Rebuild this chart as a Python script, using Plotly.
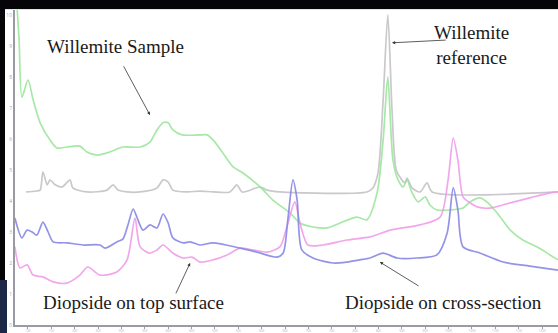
import plotly.graph_objects as go

# Willemite sample (green)
green_x = [76, 81, 87, 100, 111, 126, 147, 162, 183, 211, 226, 248, 275, 303, 340, 361, 376, 389, 400, 410,
           430, 468, 483, 496, 517, 539, 560, 597, 624, 661, 682, 710, 740, 768, 804, 825, 847, 860, 870, 881,
           892, 903, 911, 922, 935, 950, 960, 975, 1003, 1031, 1046, 1067, 1082, 1104, 1132, 1159, 1189, 1217, 1234]
green_y = [10.4, 9.19, 7.35, 7.90, 7.26, 6.52, 5.97, 5.71, 5.74, 5.77, 5.58, 5.48, 5.58, 5.74, 5.74, 5.90, 6.29, 6.52, 6.52, 6.29,
           6.13, 6.13, 6.13, 5.97, 5.55, 5.10, 4.90, 4.45, 4.03, 3.61, 3.29, 3.16, 3.13, 3.29, 3.48, 3.39, 4.26, 5.97, 8.0, 5.32,
           4.68, 4.45, 4.68, 4.26, 3.97, 4.13, 3.87, 3.71, 3.71, 3.77, 3.97, 4.10, 3.97, 3.61, 3.06, 2.74, 2.52, 2.26, 2.10]

# Willemite reference (grey)
grey_x = [96, 117, 126, 132, 141, 147, 158, 173, 190, 196, 226, 269, 282, 293, 312, 340, 376, 389, 400, 410,
          440, 468, 496, 532, 547, 558, 597, 612, 639, 825, 838, 849, 860, 870, 879, 888, 900, 907, 911, 922,
          939, 954, 965, 1234]
grey_y = [4.29, 4.32, 4.35, 4.94, 4.52, 4.68, 4.52, 4.45, 4.68, 4.42, 4.29, 4.35, 4.52, 4.35, 4.29, 4.29, 4.42, 4.68, 4.61, 4.35,
          4.29, 4.32, 4.29, 4.29, 4.52, 4.29, 4.45, 4.35, 4.29, 4.29, 4.42, 4.90, 7.26, 10.0, 6.94, 5.0, 4.68, 4.58, 4.74, 4.42,
          4.29, 4.58, 4.29, 4.29]

# Diopside on cross-section (blue)
blue_x = [72, 87, 98, 109, 119, 132, 143, 154, 183, 218, 254, 265, 290, 303, 314, 325, 333, 346, 361, 376,
          389, 400, 410, 432, 447, 468, 496, 554, 590, 633, 646, 656, 667, 676, 686, 710, 753, 783, 810, 832,
          860, 890, 932, 975, 997, 1010, 1020, 1031, 1067, 1117, 1174, 1234]
blue_y = [3.45, 2.81, 3.06, 3.0, 2.90, 3.32, 3.0, 2.68, 2.65, 2.58, 2.58, 2.48, 2.68, 2.77, 3.23, 3.74, 3.48, 3.06, 3.23, 3.13,
          3.58, 3.29, 2.81, 2.65, 2.68, 2.58, 2.65, 2.48, 2.35, 2.19, 2.32, 3.39, 4.68, 4.03, 2.42, 2.16, 2.0, 2.03, 2.10, 2.16,
          2.32, 2.16, 2.16, 2.26, 2.97, 4.42, 3.71, 2.52, 2.32, 2.03, 1.90, 1.77]

# Diopside on top surface (pink)
pink_x = [72, 83, 98, 111, 132, 154, 183, 211, 228, 254, 290, 312, 329, 340, 361, 376, 389, 410, 432, 451,
          468, 496, 526, 554, 582, 612, 639, 654, 671, 682, 699, 731, 783, 832, 875, 939, 982, 999, 1010, 1020,
          1031, 1046, 1061, 1089, 1132, 1174, 1217, 1234]
pink_y = [2.52, 1.84, 1.94, 1.61, 1.55, 1.39, 1.35, 1.61, 1.87, 1.61, 1.71, 2.10, 3.45, 2.52, 2.32, 2.42, 2.58, 2.32, 2.16, 2.19,
          2.03, 2.10, 2.26, 2.48, 2.42, 2.35, 2.52, 3.16, 3.97, 3.29, 2.58, 2.58, 2.74, 2.84, 3.06, 3.23, 3.48, 4.68, 6.03, 5.32,
          4.13, 3.94, 3.81, 3.77, 3.94, 4.10, 4.26, 4.29]

x_ticks = list(range(100, 1201, 50))
y_ticks = list(range(0, 11))

fig = go.Figure()
series = [
    (grey_x, grey_y, "rgba(195,195,200,0.9)"),
    (green_x, green_y, "rgba(150,228,150,0.85)"),
    (pink_x, pink_y, "rgba(240,150,232,0.85)"),
    (blue_x, blue_y, "rgba(135,135,228,0.9)"),
]
for xs, ys, c in series:
    fig.add_trace(go.Scatter(x=xs, y=ys, mode="lines", showlegend=False, hoverinfo="skip",
                             line=dict(color=c, width=1.7, shape="spline", smoothing=0.75)))

serif = "Liberation Serif, Times New Roman, DejaVu Serif, serif"
txt_font = dict(family=serif, size=19, color="#1a1a1a")
annotations = [
    dict(x=288, y=8.97, text="Willemite Sample", showarrow=False, font=txt_font),
    dict(x=1050, y=9.03, text="Willemite<br>reference", showarrow=False, font=txt_font),
    dict(x=325, y=0.71, text="Diopside on top surface", showarrow=False, font=txt_font),
    dict(x=990, y=0.71, text="Diopside on cross-section", showarrow=False, font=txt_font),
]
arrows = [
    (361, 6.77, 303, 8.39),
    (879, 9.10, 997, 9.19),
    (447, 2.0, 415, 0.97),
    (853, 2.03, 939, 1.23),
]
for hx, hy, tx, ty in arrows:
    annotations.append(dict(x=hx, y=hy, ax=tx, ay=ty, axref="x", ayref="y", xref="x", yref="y",
                            text="", showarrow=True, arrowhead=2, arrowsize=0.8, arrowwidth=0.8,
                            arrowcolor="#333333"))

W, H = 558, 333
L, R, T, B = 15, 0, 9, 8
pw, ph = W - L - R, H - T - B
dark = "#050507"
shapes = [
    # white slide panel behind the chart
    dict(type="rect", xref="paper", yref="paper", x0=(5 - L) / pw, x1=1.0, y0=-B / ph, y1=1.0,
         fillcolor="white", line=dict(width=0), layer="below"),
    # dark slide frame: top band and left band
    dict(type="rect", xref="paper", yref="paper", x0=-L / pw, x1=1.0, y0=1.0, y1=1.0 + T / ph,
         fillcolor=dark, line=dict(width=0), layer="above"),
    dict(type="rect", xref="paper", yref="paper", x0=-L / pw, x1=(5 - L) / pw, y0=(H - B - 280) / ph, y1=1.0 + T / ph,
         fillcolor=dark, line=dict(width=0), layer="above"),
    # thin pale line under the top band
    dict(type="line", xref="paper", yref="paper", x0=(5 - L) / pw, x1=1.0, y0=1.0 - 0.5 / ph, y1=1.0 - 0.5 / ph,
         line=dict(color="#dfe4ee", width=1), layer="above"),
    # dark blue corner at lower left
    dict(type="rect", xref="paper", yref="paper", x0=-L / pw, x1=(7 - L) / pw, y0=-B / ph, y1=(H - B - 280) / ph,
         fillcolor="#1c2846", line=dict(width=0), layer="above"),
]

fig.update_layout(
    width=W, height=H,
    margin=dict(l=L, r=R, t=T, b=B, pad=0),
    paper_bgcolor=dark,
    plot_bgcolor="white",
    annotations=annotations,
    shapes=shapes,
    xaxis=dict(range=[72.2, 1234.2], tickvals=x_ticks, ticktext=[str(v) for v in x_ticks],
               showgrid=False, zeroline=False, showline=True, linecolor="#9a9aa4", linewidth=1.5,
               ticks="outside", ticklen=2, tickcolor="#9a9aa4", tickfont=dict(size=3, color="#b0b0b0"),
               automargin=False),
    yaxis=dict(range=[0, 10.19], tickvals=y_ticks, ticktext=[str(v) for v in y_ticks],
               showgrid=False, zeroline=False, showline=True, linecolor="#9a9aa4", linewidth=2,
               ticks="", tickfont=dict(size=5, color="#a8a8a8"), automargin=False),
)

fig.write_html(
    "out.html",
    config={"displayModeBar": False},
    post_script="document.body.style.margin='0';document.body.style.padding='0';"
                "document.body.style.background='#050507';document.body.style.overflow='hidden';",
)
